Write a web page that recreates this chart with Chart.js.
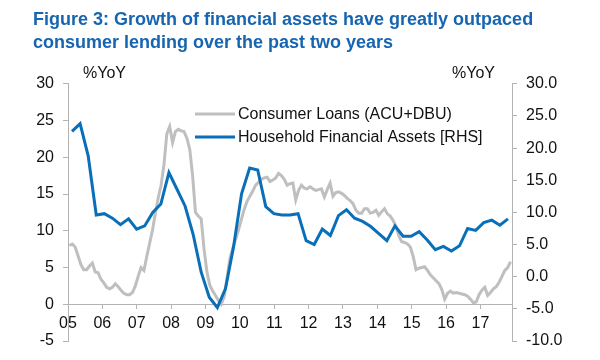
<!DOCTYPE html>
<html>
<head>
<meta charset="utf-8">
<script src="https://cdn.jsdelivr.net/npm/chart.js@4.4.1/dist/chart.umd.min.js"></script>
<style>
  html, body { margin: 0; padding: 0; background: #ffffff; }
  #wrap { width: 600px; height: 360px; }
</style>
</head>
<body>
<div id="wrap"><canvas id="c" width="600" height="360"></canvas></div>
<script>
// ---- Data ----
const titleLines = [
  'Figure 3: Growth of financial assets have greatly outpaced',
  'consumer lending over the past two years'
];
const yearLabels = ['05','06','07','08','09','10','11','12','13','14','15','16','17'];
const monthsPerYear = 12;
const monthCount = 155; // Jan 2005 .. Nov 2017

// Consumer Loans (ACU+DBU), %YoY, monthly, left axis
const consumerLoans = [
  8.0, 8.2, 7.8, 6.6, 5.4, 4.7, 4.7, 5.2, 5.6, 4.4, 4.3, 3.4,
  2.9, 2.3, 2.1, 2.3, 2.8, 2.4, 1.9, 1.5, 1.3, 1.3, 1.6, 2.5,
  3.8, 5.0, 4.6, 6.5, 8.3, 10.1, 12.4, 14.5, 16.2, 19.0, 23.2, 24.2,
  22.0, 23.5, 23.8, 23.6, 23.5, 22.6, 21.1, 17.5, 12.5, 12.0, 11.6, 7.5,
  4.4, 2.6, 1.8, 1.2, 0.5, 0.0, 1.0, 3.5, 6.2, 7.6, 8.8, 10.1,
  11.5, 12.9, 14.0, 14.7, 15.4, 16.2, 16.6, 17.0, 17.2, 17.3, 16.7, 16.9,
  17.2, 17.8, 17.5, 17.0, 16.2, 16.4, 16.5, 14.2, 15.5, 16.2, 15.8, 15.7,
  16.0, 15.7, 15.5, 15.6, 15.7, 14.6, 15.6, 16.5, 14.7, 15.2, 15.3, 15.1,
  14.8, 14.4, 14.1, 13.7, 12.8, 12.4, 12.4, 13.0, 13.0, 12.4, 12.5, 12.8,
  12.1, 12.6, 13.0, 12.3, 12.0, 11.4, 10.6, 9.3, 8.5, 8.4, 8.2, 7.8,
  6.5, 4.7, 4.9, 5.0, 5.1, 4.6, 4.0, 3.6, 3.2, 2.8, 2.0, 0.7,
  1.5, 1.8, 1.5, 1.6, 1.5, 1.4, 1.3, 1.1, 0.7, 0.2, 0.3, 1.3,
  1.9, 2.3, 1.2, 1.6, 2.1, 2.4, 3.0, 3.8, 4.6, 5.0, 5.8
];

// Household Financial Assets [RHS], %YoY, periodic points, right axis
const householdAssets = [
  22.6, 23.8, 18.8, 9.6, 9.8, 9.1, 8.1, 9.0, 7.4, 7.9, 10.0, 11.3,
  16.2, 13.6, 11.0, 6.6, 0.7, -3.2, -4.8, -1.9, 4.6, 12.9, 16.9, 16.6,
  10.9, 9.8, 9.6, 9.6, 9.8, 5.6, 5.0, 7.4, 6.4, 9.5, 10.4, 9.1,
  8.6, 7.8, 6.7, 5.6, 7.9, 6.3, 6.3, 7.0, 5.7, 4.2, 4.7, 4.0,
  4.8, 7.5, 7.2, 8.4, 8.8, 8.0, 9.0
];
const assetPeriods = householdAssets.map((_, i) => 'P' + (i + 1));

const leftAxisTitle = '%YoY';
const rightAxisTitle = '%YoY';
const seriesNames = ['Consumer Loans (ACU+DBU)', 'Household Financial Assets [RHS]'];

// ---- Styles ----
const FONT = "'Liberation Sans', Arial, Helvetica, sans-serif";
const GREY = '#bfbfbf';
const BLUE = '#0a6fb9';
const AXIS = '#b3b3b3';
const TITLE = '#1765b0';
const FS = 16;

Chart.defaults.font.family = FONT;
Chart.defaults.color = '#111';

const overlay = {
  id: 'overlay',
  afterDraw(chart) {
    const ctx = chart.ctx;
    const a = chart.chartArea;
    ctx.save();
    ctx.font = FS + 'px ' + FONT;
    ctx.fillStyle = '#111';
    ctx.textBaseline = 'alphabetic';
    ctx.textAlign = 'left';
    ctx.fillText(leftAxisTitle, a.left + 15, a.top - 6);
    ctx.textAlign = 'right';
    ctx.fillText(rightAxisTitle, a.right - 17, a.top - 6);

    // legend inside plot area
    const ds = chart.data.datasets;
    const lx = 195, lw = 40, rows = [114, 137];
    ds.forEach((d, i) => {
      const y = rows[i];
      ctx.strokeStyle = d.borderColor;
      ctx.lineWidth = 3;
      ctx.beginPath();
      ctx.moveTo(lx, y);
      ctx.lineTo(lx + lw, y);
      ctx.stroke();
      ctx.textAlign = 'left';
      ctx.textBaseline = 'middle';
      ctx.fillStyle = '#111';
      ctx.fillText(d.label, lx + lw + 3, y + 1);
    });
    ctx.restore();
  }
};

new Chart(document.getElementById('c'), {
  type: 'line',
  data: {
    datasets: [
      {
        label: seriesNames[0],
        data: consumerLoans.map((v, i) => ({ x: i + 0.5, y: v })),
        xAxisID: 'x',
        yAxisID: 'y',
        borderColor: GREY,
        borderWidth: 3,
        pointRadius: 0,
        tension: 0,
        order: 2
      },
      {
        label: seriesNames[1],
        data: householdAssets,
        xAxisID: 'x2',
        yAxisID: 'y2',
        borderColor: BLUE,
        borderWidth: 3,
        pointRadius: 0,
        tension: 0,
        order: 1
      }
    ]
  },
  options: {
    responsive: false,
    animation: false,
    devicePixelRatio: 1,
    layout: { padding: { left: 33, right: 0, top: 0, bottom: 19 } },
    plugins: {
      legend: { display: false },
      tooltip: { enabled: false },
      title: {
        display: true,
        text: titleLines,
        align: 'start',
        color: TITLE,
        font: { family: FONT, size: 18, weight: 'bold', lineHeight: 1.3 },
        padding: { top: 8, bottom: 29 }
      }
    },
    scales: {
      x: {
        type: 'linear',
        position: { y: 0 },
        min: 0,
        max: monthCount,
        grid: { drawOnChartArea: false, tickLength: 4, color: AXIS },
        border: { color: AXIS, width: 1 },
        ticks: {
          stepSize: monthsPerYear,
          includeBounds: false,
          autoSkip: false,
          maxRotation: 0,
          padding: 6,
          color: '#111',
          font: { size: FS },
          callback: (v) => yearLabels[Math.round(v / monthsPerYear)] ?? ''
        }
      },
      x2: {
        type: 'category',
        labels: assetPeriods,
        offset: true,
        display: false
      },
      y: {
        type: 'linear',
        position: 'left',
        min: -5,
        max: 30,
        afterFit: (s) => { s.width = 35; },
        grid: { drawOnChartArea: false, tickLength: 5, color: AXIS },
        border: { color: AXIS, width: 1 },
        ticks: { stepSize: 5, padding: 9, color: '#111', font: { size: FS } }
      },
      y2: {
        type: 'linear',
        position: 'right',
        min: -10,
        max: 30,
        afterFit: (s) => { s.width = 88; },
        grid: { drawOnChartArea: false, tickLength: 5, color: AXIS },
        border: { color: AXIS, width: 1 },
        ticks: {
          stepSize: 5, padding: 9, color: '#111', font: { size: FS },
          callback: (v) => v.toFixed(1)
        }
      }
    }
  },
  plugins: [overlay]
});
</script>
</body>
</html>
